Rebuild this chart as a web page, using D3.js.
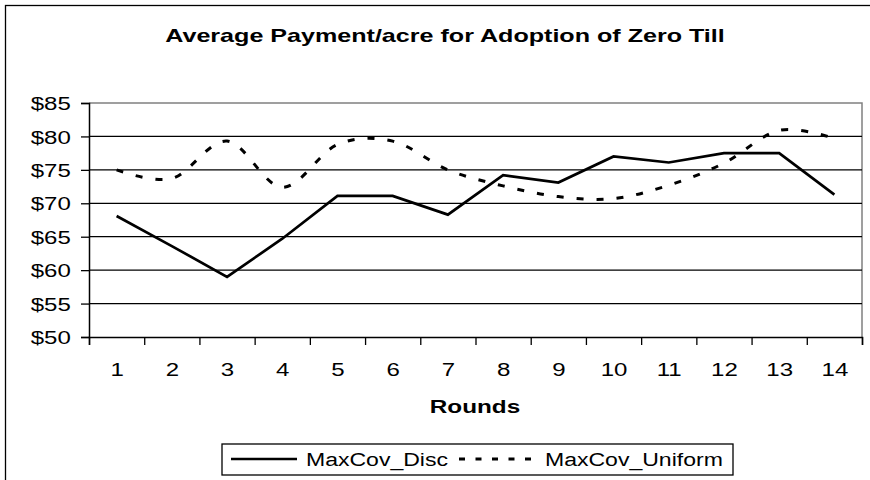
<!DOCTYPE html>
<html>
<head>
<meta charset="utf-8">
<script src="https://cdn.jsdelivr.net/npm/d3@7"></script>
<style>
  html, body { margin: 0; padding: 0; background: #fff; }
  svg { display: block; font-family: "Liberation Sans", Arial, sans-serif; }
</style>
</head>
<body>
<svg id="chart" width="870" height="480"></svg>
<script>
const title = "Average Payment/acre for Adoption of Zero Till";
const xTitle = "Rounds";
const rounds = [1, 2, 3, 4, 5, 6, 7, 8, 9, 10, 11, 12, 13, 14];
const yTicks = [50, 55, 60, 65, 70, 75, 80, 85];
const seriesNames = ["MaxCov_Disc", "MaxCov_Uniform"];
const maxCovDisc = [68.1, 63.6, 59.0, 64.7, 71.1, 71.1, 68.3, 74.2, 73.1, 77.0, 76.1, 77.5, 77.5, 71.3];
const maxCovUniform = [75.0, 73.7, 79.3, 72.4, 78.8, 79.3, 75.0, 72.6, 71.0, 70.7, 72.7, 76.0, 80.9, 79.7];

const SX = 1.3; // horizontal text stretch seen in the reference
const svg = d3.select("#chart");
const L = 89, R = 862, T = 103, B = 337;

const x = d3.scaleLinear().domain([0.5, 14.5]).range([L, R]);
const y = d3.scaleLinear().domain([50, 85]).range([B, T]);

// outer chart border
svg.append("rect").attr("x", 5.5).attr("y", 5.5).attr("width", 900).attr("height", 500)
  .attr("fill", "none").attr("stroke", "#000").attr("stroke-width", 1.3);

// title
svg.append("text").attr("transform", `translate(445,41.5) scale(1.35,1)`)
  .attr("text-anchor", "middle").attr("font-weight", "bold").attr("font-size", 18.6)
  .text(title);

// plot border (top/right grey)
svg.append("path").attr("d", `M${L},${T}H${R}V${B}`).attr("fill", "none")
  .attr("stroke", "#808080").attr("stroke-width", 1.5);

// gridlines
svg.append("g").selectAll("line").data(yTicks.filter(v => v > 50 && v < 85)).join("line")
  .attr("x1", L).attr("x2", R).attr("y1", d => y(d)).attr("y2", d => y(d))
  .attr("stroke", "#000").attr("stroke-width", 1.3);

// y axis
const yAxis = svg.append("g").attr("transform", `translate(${L},0)`)
  .call(d3.axisLeft(y).tickValues(yTicks).tickSize(8).tickFormat(d => "$" + d));
yAxis.select(".domain").attr("stroke", "#000").attr("stroke-width", 1.5);
yAxis.selectAll(".tick line").attr("stroke", "#000").attr("stroke-width", 1.3);
yAxis.selectAll(".tick text").attr("x", -14).attr("dy", "0.36em")
  .attr("transform", `scale(${SX},1)`).attr("font-size", 18.5).attr("fill", "#000")
  .attr("font-family", "Liberation Sans, Arial, sans-serif");

// x axis ticks at category boundaries
const xAxis = svg.append("g").attr("transform", `translate(0,${B})`)
  .call(d3.axisBottom(x).tickValues(d3.range(0.5, 14.6, 1)).tickSize(8).tickFormat(""));
xAxis.select(".domain").attr("stroke", "#000").attr("stroke-width", 1.5);
xAxis.selectAll(".tick line").attr("stroke", "#000").attr("stroke-width", 1.3);

// x labels
const xLab = svg.append("g").attr("transform", `translate(0,${B})`)
  .call(d3.axisBottom(x).tickValues(rounds).tickSize(0).tickFormat(d => d));
xLab.select(".domain").remove();
xLab.selectAll(".tick text").attr("y", 39).attr("dy", 0)
  .attr("transform", `scale(${SX},1)`).attr("font-size", 18.5).attr("fill", "#000")
  .attr("font-family", "Liberation Sans, Arial, sans-serif");

// x title
svg.append("text").attr("transform", `translate(475,413) scale(1.35,1)`)
  .attr("text-anchor", "middle").attr("font-weight", "bold").attr("font-size", 18)
  .text(xTitle);

// lines
const discLine = d3.line().x((d, i) => x(rounds[i])).y(d => y(d));
const uniLine = d3.line().x((d, i) => x(rounds[i])).y(d => y(d)).curve(d3.curveCatmullRom.alpha(0));

svg.append("path").datum(maxCovDisc).attr("d", discLine)
  .attr("fill", "none").attr("stroke", "#000").attr("stroke-width", 2.7).attr("stroke-linejoin", "miter");
svg.append("path").datum(maxCovUniform).attr("d", uniLine)
  .attr("fill", "none").attr("stroke", "#000").attr("stroke-width", 3).attr("stroke-dasharray", "7,13");

// legend
const lg = svg.append("g");
lg.append("rect").attr("x", 222).attr("y", 444).attr("width", 511).attr("height", 31)
  .attr("fill", "#fff").attr("stroke", "#000").attr("stroke-width", 1.3);
lg.append("line").attr("x1", 231).attr("x2", 297).attr("y1", 459).attr("y2", 459)
  .attr("stroke", "#000").attr("stroke-width", 2.7);
lg.append("text").attr("transform", `translate(306,465.5) scale(1.28,1)`)
  .attr("font-size", 18).text(seriesNames[0]);
lg.append("line").attr("x1", 459).attr("x2", 537).attr("y1", 459).attr("y2", 459)
  .attr("stroke", "#000").attr("stroke-width", 3).attr("stroke-dasharray", "6,10.5");
lg.append("text").attr("transform", `translate(545,465.5) scale(1.28,1)`)
  .attr("font-size", 18).text(seriesNames[1]);
</script>
</body>
</html>
